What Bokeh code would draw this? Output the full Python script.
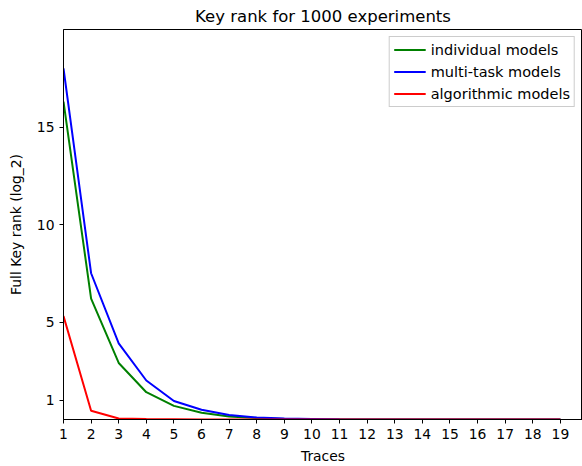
from bokeh.plotting import figure
from bokeh.models import FixedTicker, Range1d, Legend, LegendItem
from bokeh.embed import file_html
from bokeh.resources import INLINE

traces = list(range(1, 20))
individual = [16.3, 6.2, 2.9, 1.4, 0.7, 0.35, 0.15, 0.07, 0.03, 0.01, 0, 0, 0, 0, 0, 0, 0, 0, 0]
multitask = [18.0, 7.5, 3.9, 2.0, 0.95, 0.5, 0.23, 0.1, 0.05, 0.03, 0.01, 0, 0, 0, 0, 0, 0, 0, 0]
algorithmic = [5.3, 0.45, 0.05, 0.02, 0.01, 0, 0, 0, 0, 0, 0, 0, 0, 0, 0, 0, 0, 0, 0]
y_ticks = [1, 5, 10, 15]

FONT = "DejaVu Sans"

p = figure(width=582, height=466, output_backend="svg", toolbar_location=None,
           x_range=Range1d(1, 19.8), y_range=Range1d(0, 20),
           title="Key rank for 1000 experiments")
p.min_border_left = 63
p.min_border_right = 0
p.min_border_bottom = 47
p.min_border_top = 28

p.title.align = "center"
p.title.vertical_align = "bottom"
p.title.standoff = 8
p.title.text_font = FONT
p.title.text_font_size = "16.5px"
p.title.text_font_style = "normal"
p.title.text_color = "#000000"

p.xgrid.visible = False
p.ygrid.visible = False
p.outline_line_color = "black"

p.xaxis.ticker = FixedTicker(ticks=traces)
p.yaxis.ticker = FixedTicker(ticks=y_ticks)
for ax in (p.xaxis[0], p.yaxis[0]):
    ax.major_label_text_font = FONT
    ax.major_label_text_font_size = "13.9px"
    ax.major_label_text_color = "#000000"
    ax.axis_label_text_font = FONT
    ax.axis_label_text_font_size = "13.9px"
    ax.axis_label_text_font_style = "normal"
    ax.axis_label_text_color = "#000000"
    ax.axis_line_color = "black"
    ax.major_tick_line_color = "black"
    ax.major_tick_out = 4
    ax.major_tick_in = 0
    ax.minor_tick_line_color = None
p.xaxis.axis_label = "Traces"
p.yaxis.axis_label = "Full Key rank (log_2)"
p.xaxis.axis_label_standoff = 6
p.yaxis.axis_label_standoff = 10

r1 = p.line(traces, individual, line_color="green", line_width=2)
r2 = p.line(traces, multitask, line_color="blue", line_width=2)
r3 = p.line(traces, algorithmic, line_color="red", line_width=2)

legend = Legend(items=[LegendItem(label="individual models", renderers=[r1]),
                       LegendItem(label="multi-task models", renderers=[r2]),
                       LegendItem(label="algorithmic models", renderers=[r3])],
                location="top_right")
legend.label_text_font = FONT
legend.label_text_font_size = "14.5px"
legend.label_text_color = "#000000"
legend.label_height = 17
legend.glyph_height = 17
legend.glyph_width = 32
legend.spacing = 5
legend.padding = 4
legend.margin = 7
legend.border_line_color = "#cccccc"
legend.border_line_alpha = 1
legend.background_fill_alpha = 0.8
p.add_layout(legend)

open("out.html", "w").write(file_html(p, INLINE))
